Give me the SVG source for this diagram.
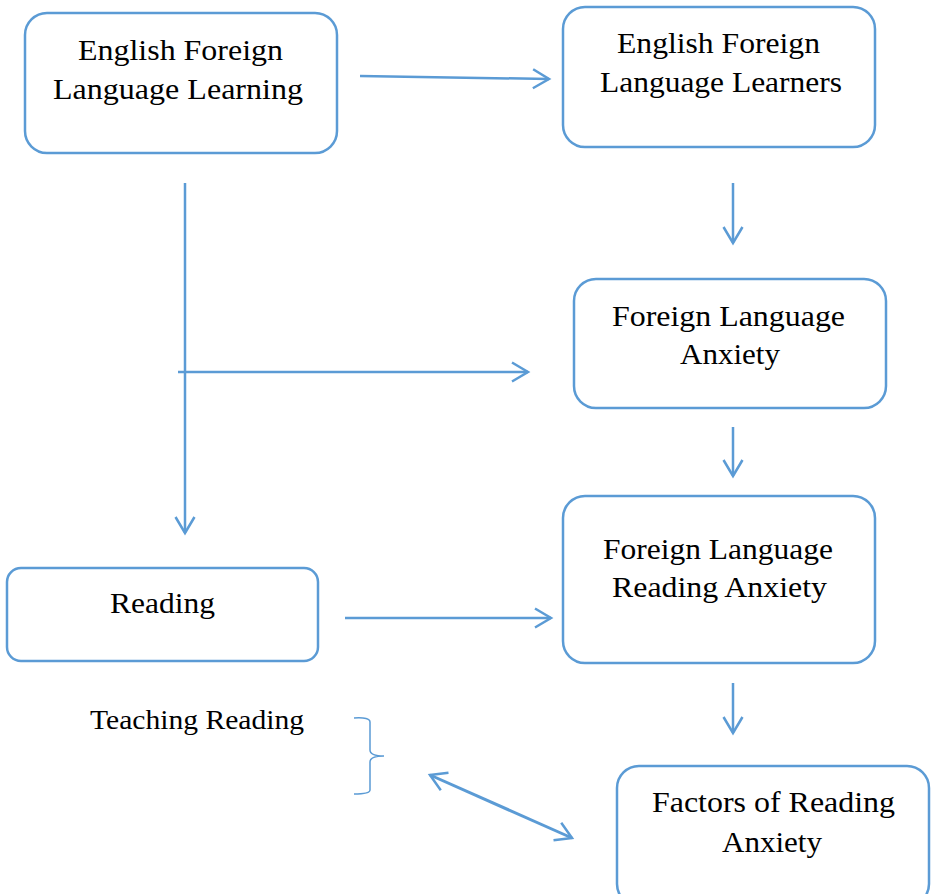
<svg xmlns="http://www.w3.org/2000/svg" width="934" height="894" viewBox="0 0 934 894">
<style>
.box{fill:#fff;stroke:#5B9BD5;stroke-width:2.5}
.t{font-family:"Liberation Serif","Times New Roman",serif;font-size:29px;fill:#000;text-anchor:middle}
.c{fill:none;stroke:#5B9BD5;stroke-width:2.5}
</style>
<defs>
<marker id="ah" viewBox="0 0 22 22" refX="19" refY="11" markerWidth="22" markerHeight="22" markerUnits="userSpaceOnUse" orient="auto-start-reverse">
<path d="M3,1.5 L19,11 L3,20.5" fill="none" stroke="#5B9BD5" stroke-width="2.5"/>
</marker>
</defs>
<rect width="934" height="894" fill="#fff"/>
<g id="n1"><rect class="box" x="25" y="13" width="312" height="140" rx="22"/>
<text class="t" x="180.5" y="60" textLength="205" lengthAdjust="spacingAndGlyphs">English Foreign</text><text class="t" x="178" y="99" textLength="250" lengthAdjust="spacingAndGlyphs">Language Learning</text></g>
<g id="n2"><rect class="box" x="563" y="7" width="312" height="140" rx="22"/>
<text class="t" x="718.5" y="53" textLength="203" lengthAdjust="spacingAndGlyphs">English Foreign</text><text class="t" x="721" y="92" textLength="242" lengthAdjust="spacingAndGlyphs">Language Learners</text></g>
<g id="n3"><rect class="box" x="574" y="279" width="312" height="129" rx="22"/>
<text class="t" x="728.5" y="326" textLength="233" lengthAdjust="spacingAndGlyphs">Foreign Language</text><text class="t" x="730" y="364" textLength="100" lengthAdjust="spacingAndGlyphs">Anxiety</text></g>
<g id="n4"><rect class="box" x="563" y="496" width="312" height="167" rx="22"/>
<text class="t" x="718" y="559" textLength="230" lengthAdjust="spacingAndGlyphs">Foreign Language</text><text class="t" x="719.5" y="597" textLength="215" lengthAdjust="spacingAndGlyphs">Reading Anxiety</text></g>
<g id="n5"><rect class="box" x="7" y="568" width="311" height="93" rx="14"/>
<text class="t" x="162.5" y="613" textLength="105" lengthAdjust="spacingAndGlyphs">Reading</text></g>
<g id="n6"><rect class="box" x="617" y="766" width="312" height="140" rx="22"/>
<text class="t" x="773.5" y="812" textLength="243" lengthAdjust="spacingAndGlyphs">Factors of Reading</text><text class="t" x="772" y="852" textLength="100" lengthAdjust="spacingAndGlyphs">Anxiety</text></g>
<g id="n7"><text x="90" y="729" textLength="214" lengthAdjust="spacingAndGlyphs" style="font-family:'Liberation Serif','Times New Roman',serif;font-size:28px;fill:#000">Teaching Reading</text></g>
<g id="connectors">
<line class="c" x1="360" y1="76" x2="549" y2="79" marker-end="url(#ah)"/>
<line class="c" x1="733" y1="183" x2="733" y2="243" marker-end="url(#ah)"/>
<line class="c" x1="185" y1="183" x2="185" y2="533" marker-end="url(#ah)"/>
<line class="c" x1="178" y1="372" x2="528" y2="372" marker-end="url(#ah)"/>
<line class="c" x1="733" y1="427" x2="733" y2="476" marker-end="url(#ah)"/>
<line class="c" x1="345" y1="618" x2="551" y2="618" marker-end="url(#ah)"/>
<line class="c" x1="733" y1="683" x2="733" y2="733" marker-end="url(#ah)"/>
<line class="c" x1="430" y1="775" x2="572" y2="838" marker-start="url(#ah)" marker-end="url(#ah)" style="stroke-width:3"/>
<path d="M354,718 Q370,717 370,722 L370,750 Q370,756 384,756 Q370,756 370,762 L370,790 Q370,794 354,794" fill="none" stroke="#5B9BD5" stroke-width="1.5"/>
</g>
</svg>
